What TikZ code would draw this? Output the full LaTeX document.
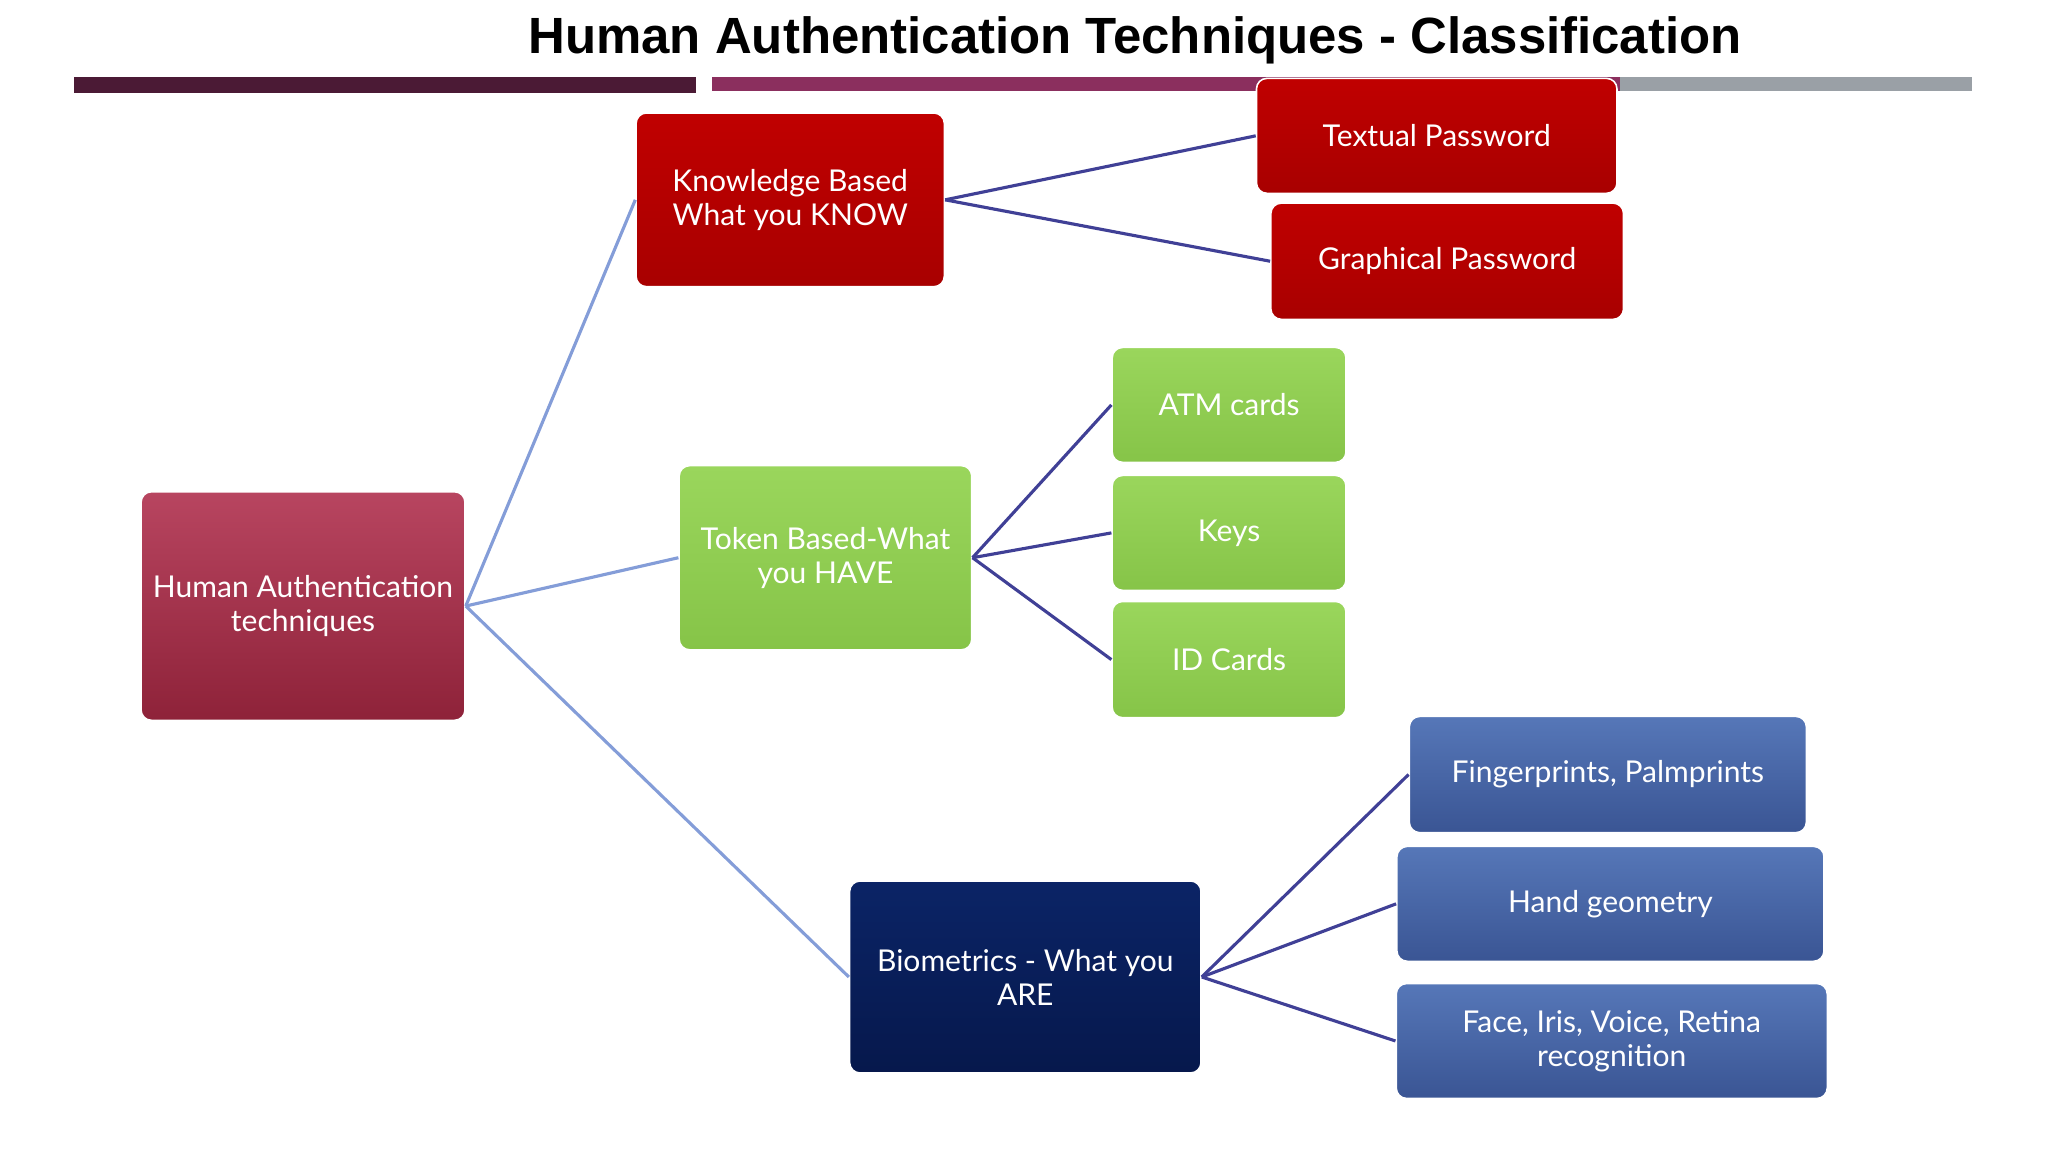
\documentclass[tikz,border=0pt]{standalone}
\usepackage{fontspec}
\setmainfont{Lato}
\newfontfamily\titlefont{Liberation Sans}
\begin{document}
\begin{tikzpicture}[x=0.5pt,y=-0.5pt,
 box/.style={draw=white,line width=0.6pt,rounded corners=4pt,align=center,text=white,font=\fontsize{11.5}{13}\selectfont,inner sep=2pt},
 red/.style={box,top color=red!80!black!95,bottom color=red!75!black},
 grn/.style={box,top color=green!55!yellow!60!white!95!black,bottom color=green!50!yellow!60!black!90!white},
 blu/.style={box,top color=blue!30!cyan!20!black!60!white,bottom color=blue!40!black!75!white},
 lk/.style={draw=cyan!40!blue!50!white,line width=1.2pt},
 dk/.style={draw=blue!45!black!75!white,line width=1.2pt}]
\useasboundingbox (0,0) rectangle (1568,882);
\definecolor{rootA}{HTML}{B84560}\definecolor{rootB}{HTML}{8E2239}
\definecolor{kred}{HTML}{C00000}\definecolor{kredB}{HTML}{A80000}
\definecolor{gA}{HTML}{9AD65C}\definecolor{gB}{HTML}{86C448}
\definecolor{bA}{HTML}{5677B8}\definecolor{bB}{HTML}{3A5594}
\definecolor{navy}{HTML}{0B2466}\definecolor{navyB}{HTML}{06184C}
\node[font=\titlefont\bfseries\fontsize{19.5}{22}\selectfont] (t) at (869,31) {Human Authentication Techniques - Classification};
\fill[fill={rgb,255:red,75;green,26;blue,53}] (57,59) rectangle (533,71);
\fill[fill={rgb,255:red,139;green,47;blue,94}] (545,59) rectangle (1240,70);
\fill[fill={rgb,255:red,154;green,160;blue,166}] (1240,59) rectangle (1510,70);
\tikzset{mk/.style n args={4}{minimum width=#1*0.5pt,minimum height=#2*0.5pt,top color=#3,bottom color=#4}}
\node[box,mk={248}{175}{rootA}{rootB}] (root) at (232,464) {Human Authentication\\techniques};
\node[box,mk={236}{133}{kred}{kredB}] (kn) at (605,153) {Knowledge Based\\What you KNOW};
\node[box,mk={276}{88}{kred}{kredB}] (tp) at (1100,104) {Textual Password};
\node[box,mk={270}{89}{kred}{kredB}] (gp) at (1108,200) {Graphical Password};
\node[box,mk={224}{141}{gA}{gB}] (tk) at (632,427) {Token Based-What\\you HAVE};
\node[box,mk={179}{88}{gA}{gB}] (atm) at (941,310) {ATM cards};
\node[box,mk={179}{88}{gA}{gB}] (keys) at (941,408) {Keys};
\node[box,mk={179}{89}{gA}{gB}] (id) at (941,505) {ID Cards};
\node[box,mk={269}{147}{navy}{navyB}] (bio) at (785,748) {Biometrics - What you\\ARE};
\node[box,mk={304}{89}{bA}{bB}] (fp) at (1231,593) {Fingerprints, Palmprints};
\node[box,mk={327}{88}{bA}{bB}] (hg) at (1233,692) {Hand geometry};
\node[box,mk={330}{88}{bA}{bB}] (fi) at (1234,797) {Face, Iris, Voice, Retina\\recognition};
\draw[lk] (root.east) -- (kn.west);
\draw[lk] (root.east) -- (tk.west);
\draw[lk] (root.east) -- (bio.west);
\draw[dk] (kn.east) -- (tp.west);
\draw[dk] (kn.east) -- (gp.west);
\draw[dk] (tk.east) -- (atm.west);
\draw[dk] (tk.east) -- (keys.west);
\draw[dk] (tk.east) -- (id.west);
\draw[dk] (bio.east) -- (fp.west);
\draw[dk] (bio.east) -- (hg.west);
\draw[dk] (bio.east) -- (fi.west);
\end{tikzpicture}
\end{document}
